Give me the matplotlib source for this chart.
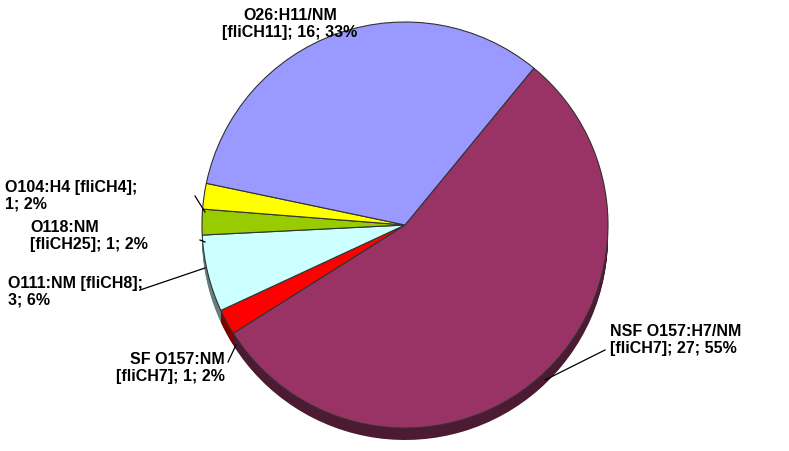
import matplotlib.pyplot as plt
import numpy as np

# slices, clockwise from the upper right edge
names = ["NSF O157:H7/NM\n[fliCH7]; 27; 55%", "SF O157:NM\n[fliCH7]; 1; 2%",
         "O111:NM [fliCH8];\n3; 6%", "O118:NM\n[fliCH25]; 1; 2%",
         "O104:H4 [fliCH4];\n1; 2%", "O26:H11/NM\n[fliCH11]; 16; 33%"]
counts = [27, 1, 3, 1, 1, 16]
colors = ["#993366", "#FF0000", "#CCFFFF", "#99CC00", "#FFFF00", "#9999FF"]
shade = ["#4d1a33", "#800000", "#667f7f", "#4d6600", "#808000", "#4d4d80"]

W, H = 789, 451
fig = plt.figure(figsize=(W / 100, H / 100), dpi=100)
ax = fig.add_axes([0, 0, 1, 1])

cx, cy, r = 405, 226, 203
start = 50.6
# depth of the 3d pie
for d in np.arange(12, 0, -1):
    ax.pie(counts, colors=shade, startangle=start, counterclock=False,
           center=(cx, cy - d), radius=r, frame=True,
           wedgeprops=dict(edgecolor="none"))
ax.pie(counts, colors=colors, startangle=start, counterclock=False,
       center=(cx, cy), radius=r, frame=True,
       wedgeprops=dict(edgecolor="#333333", linewidth=0.8))
ax.set_xlim(0, W)
ax.set_ylim(0, H)
ax.set_aspect("equal")
ax.axis("off")

# label position (pixel), alignment, leader line (pixel)
lab = [((610, 340), "left", [(605, 350), (545, 380)]),
       ((225, 368), "right", [(228, 362), (236, 345)]),
       ((8, 292), "left", [(140, 290), (205, 268)]),
       ((30, 236), "left", [(200, 240), (205, 242)]),
       ((5, 196), "left", [(195, 196), (205, 212)]),
       ((290, 24), "center", None)]
font = dict(family=["Liberation Sans", "DejaVu Sans"], weight="bold", fontsize=11.5)
for i, ((x, y), ha, line) in enumerate(lab):
    ax.text(x, H - y, names[i], ha=ha, va="center", linespacing=1.15, **font)
    if line:
        xs = [p[0] for p in line]
        ys = [H - p[1] for p in line]
        ax.plot(xs, ys, color="black", lw=0.9)

fig.savefig("out.png", dpi=100)
